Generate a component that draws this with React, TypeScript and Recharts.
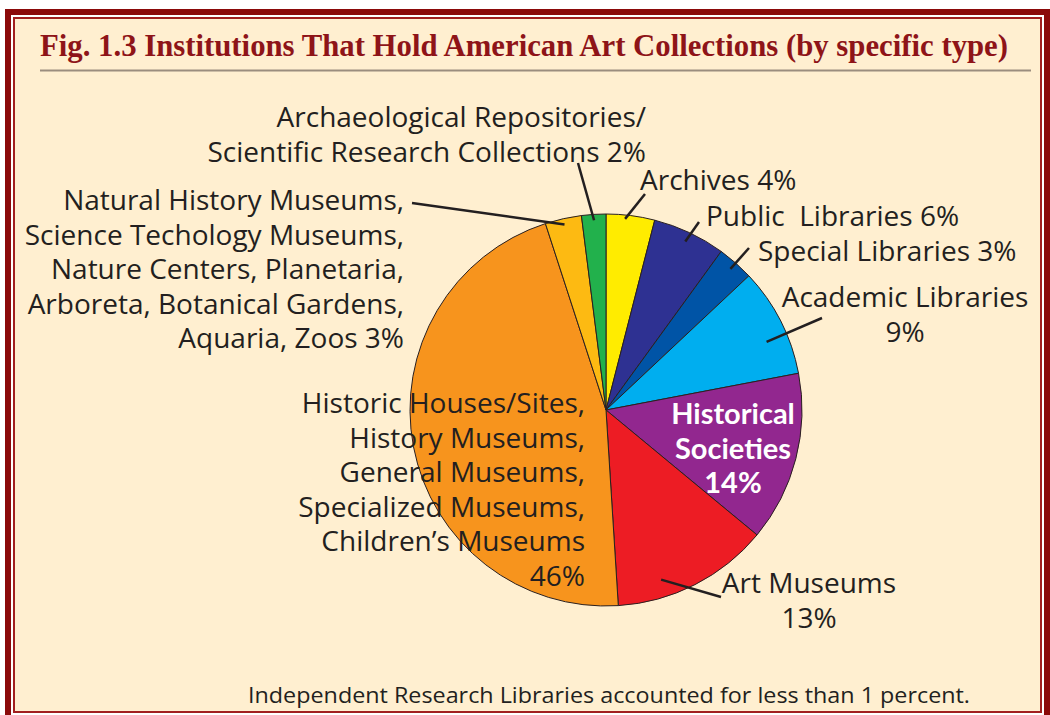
import { PieChart, Pie, Cell } from "recharts";

// slices, clockwise from 12 o'clock
const categories = [
  "Archives",
  "Public  Libraries",
  "Special Libraries",
  "Academic Libraries",
  "Historical Societies",
  "Art Museums",
  "Historic Houses/Sites, History Museums, General Museums, Specialized Museums, Children’s Museums",
  "Natural History Museums, Science Techology Museums, Nature Centers, Planetaria, Arboreta, Botanical Gardens, Aquaria, Zoos",
  "Archaeological Repositories/Scientific Research Collections",
];
const shares = [4, 6, 3, 9, 14, 13, 46, 3, 2];
const colors = ["#FFEC00", "#2E3192", "#0054A6", "#00AEEF", "#92278F", "#ED1C24", "#F7941D", "#FDBA12", "#22B14C"];

// how each label breaks into lines; last line gets the percent ("own" = percent on its own line)
const labelLines: string[][] = [
  ["Archives"],
  ["Public  Libraries"],
  ["Special Libraries"],
  ["Academic Libraries"],
  ["Historical", "Societies"],
  ["Art Museums"],
  ["Historic Houses/Sites,", "History Museums,", "General Museums,", "Specialized Museums,", "Children’s Museums"],
  ["Natural History Museums,", "Science Techology Museums,", "Nature Centers, Planetaria,", "Arboreta, Botanical Gardens,", "Aquaria, Zoos"],
  ["Archaeological Repositories/", "Scientific Research Collections"],
];
const percentOwnLine = [false, false, false, true, true, true, true, false, false];

const data = categories.map((name, i) => ({ name, value: shares[i] }));

const CX = 606;
const CY = 410;
const R = 196;

// label placement, offsets from the pie centre
type Layout = {
  anchor: "start" | "middle" | "end";
  dx: number;
  dy: number;
  line?: { ox: number; oy: number; r: number; da: number };
  inside?: boolean;
};
const layouts: Layout[] = [
  { anchor: "start", dx: 34, dy: -220, line: { ox: 39, oy: -216, r: 0.98, da: 1.5 } },
  { anchor: "start", dx: 100, dy: -184, line: { ox: 93, oy: -188, r: 0.95, da: 0 } },
  { anchor: "start", dx: 152, dy: -149, line: { ox: 143, oy: -162, r: 0.96, da: 0 } },
  { anchor: "middle", dx: 299, dy: -103, line: { ox: 216, oy: -92, r: 0.89, da: -4 } },
  { anchor: "middle", dx: 127, dy: 14, inside: true },
  { anchor: "middle", dx: 203, dy: 183, line: { ox: 115, oy: 187, r: 0.91, da: -9 } },
  { anchor: "end", dx: -21, dy: 3 },
  { anchor: "end", dx: -202, dy: -200, line: { ox: -194, oy: -207, r: 0.97, da: 0 } },
  { anchor: "end", dx: 40, dy: -283, line: { ox: -28, oy: -247, r: 0.97, da: 0 } },
];

const RAD = Math.PI / 180;

function renderLabel(props: any) {
  const { cx, cy, midAngle, outerRadius, index } = props;
  const lay = layouts[index];
  const lines = [...labelLines[index]];
  const pct = `${shares[index]}%`;
  if (percentOwnLine[index]) lines.push(pct);
  else lines[lines.length - 1] = `${lines[lines.length - 1]} ${pct}`;
  const lh = 34.5;
  let leader = null;
  if (lay.line) {
    const a = (midAngle + lay.line.da) * RAD;
    const ix = cx + outerRadius * lay.line.r * Math.cos(a);
    const iy = cy - outerRadius * lay.line.r * Math.sin(a);
    leader = (
      <line x1={cx + lay.line.ox} y1={cy + lay.line.oy} x2={ix} y2={iy} stroke="#231f20" strokeWidth={2.5} />
    );
  }
  return (
    <g key={`lbl-${index}`}>
      {leader}
      <text
        x={cx + lay.dx}
        y={cy + lay.dy}
        textAnchor={lay.anchor}
        fill={lay.inside ? "#ffffff" : "#231f20"}
        fontFamily={lay.inside ? "Lato" : "'Open Sans'"}
        fontWeight={lay.inside ? 700 : 400}
        fontSize={lay.inside ? 29 : 28}
        style={{ whiteSpace: "pre" }}
      >
        {lines.map((t, k) => (
          <tspan key={k} x={cx + lay.dx} y={cy + lay.dy + k * lh}>
            {t}
          </tspan>
        ))}
      </text>
    </g>
  );
}

export default function App() {
  return (
    <div style={{ position: "absolute", left: 0, top: 0, width: 1050, height: 715, background: "#ffffff", overflow: "hidden" }}>
      {/* double frame */}
      <div style={{ position: "absolute", left: 5, top: 9, width: 1045, height: 720, background: "#8B0A0A" }} />
      <div style={{ position: "absolute", left: 11, top: 15, width: 1033, height: 700, background: "#ffffff" }} />
      <div
        style={{
          position: "absolute",
          left: 13,
          top: 17,
          width: 1025,
          height: 692,
          background: "#FFEFD0",
          border: "2px solid #A11F1F",
        }}
      />
      <div style={{ position: "absolute", left: 0, top: 0 }}>
        <PieChart width={1050} height={715} margin={{ top: 0, right: 0, bottom: 0, left: 0 }}>
          <Pie
            data={data}
            dataKey="value"
            nameKey="name"
            cx={CX}
            cy={CY}
            outerRadius={R}
            startAngle={90}
            endAngle={-270}
            stroke="#2a2020"
            strokeWidth={1}
            label={renderLabel}
            labelLine={false}
            isAnimationActive={false}
          >
            {data.map((d, i) => (
              <Cell key={d.name} fill={colors[i]} />
            ))}
          </Pie>
        </PieChart>
      </div>
      <svg width={1050} height={715} style={{ position: "absolute", left: 0, top: 0, pointerEvents: "none" }}>
        <text
          x={40}
          y={56}
          fontFamily="'Liberation Serif'"
          fontWeight={700}
          fontSize={31}
          fill="#8E1418"
          textLength={968}
          lengthAdjust="spacingAndGlyphs"
        >
          Fig. 1.3 Institutions That Hold American Art Collections (by specific type)
        </text>
        <rect x={40} y={69.5} width={991} height={2} fill="#9B8D7E" />
        <text
          x={248}
          y={703}
          fontFamily="'Open Sans'"
          fontSize={22}
          fill="#231f20"
          textLength={722}
          lengthAdjust="spacingAndGlyphs"
        >
          Independent Research Libraries accounted for less than 1 percent.
        </text>
      </svg>
    </div>
  );
}
